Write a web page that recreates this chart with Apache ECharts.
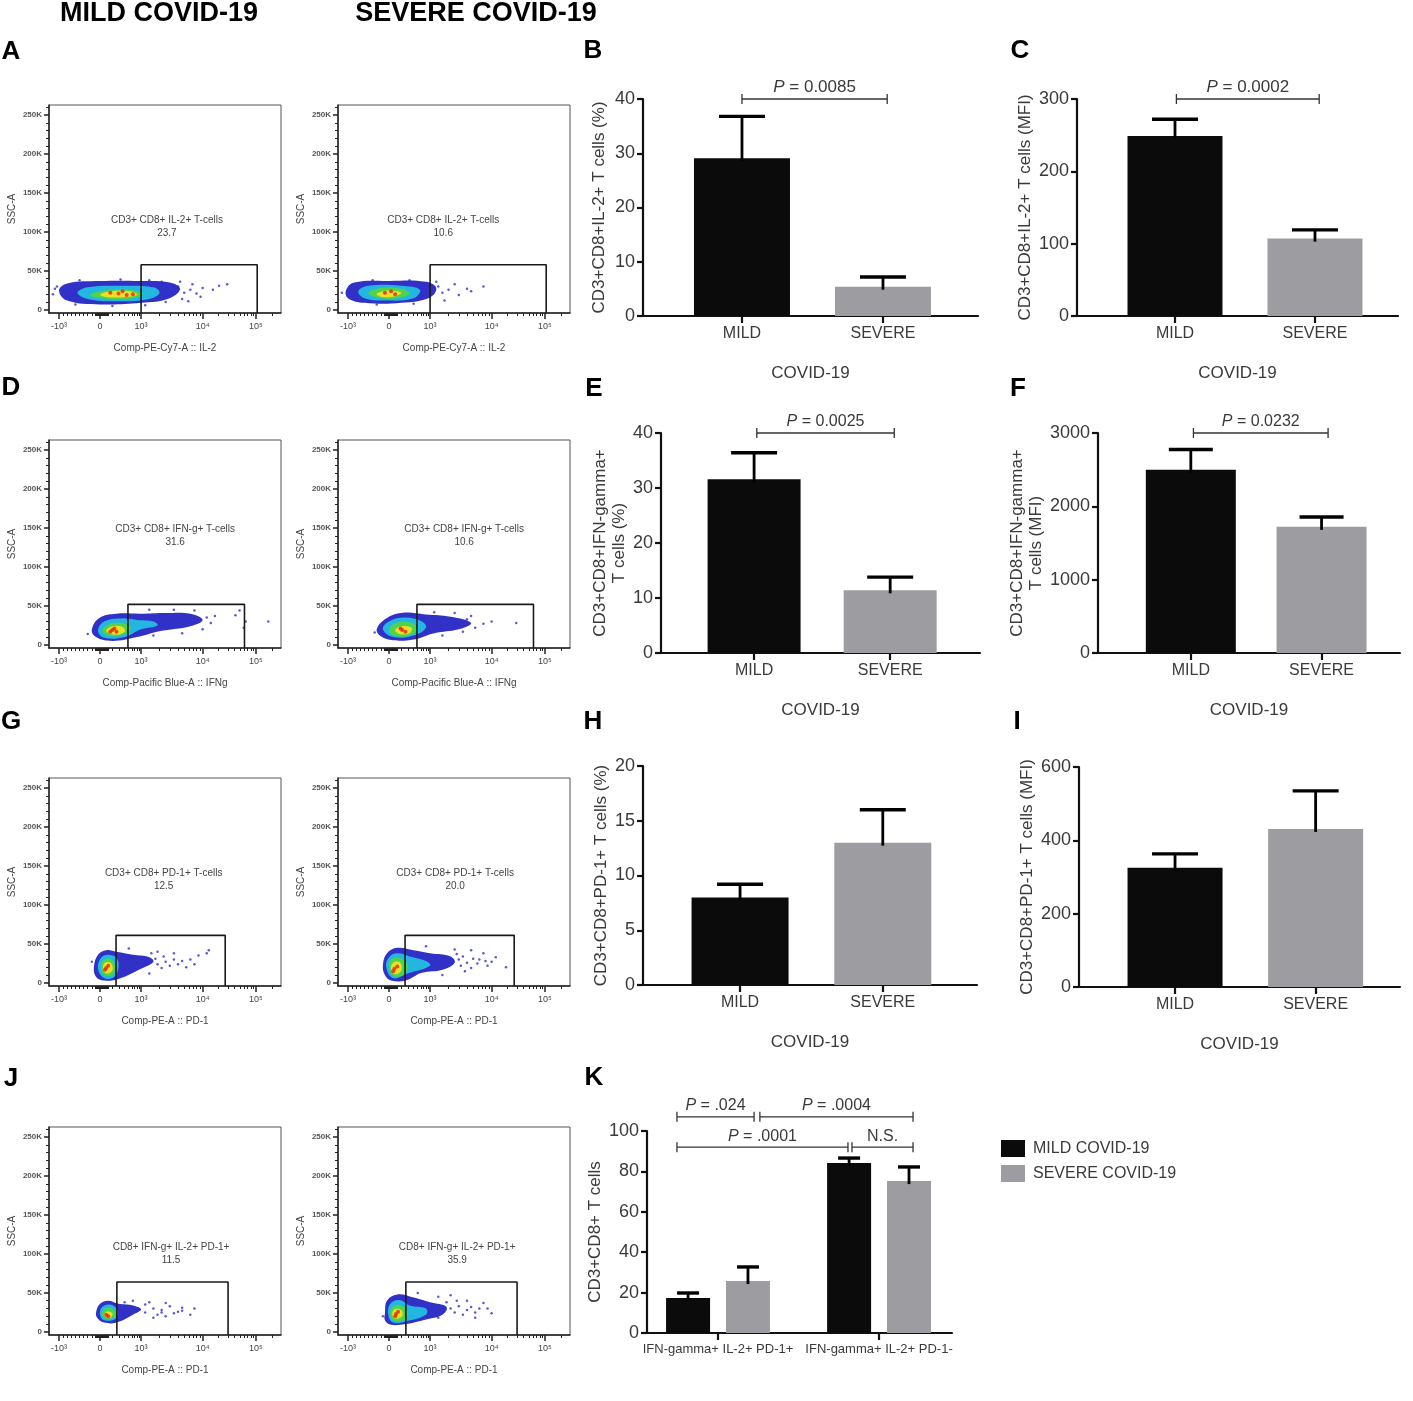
<!DOCTYPE html>
<html>
<head>
<meta charset="utf-8">
<title>CD8 T cells in mild and severe COVID-19</title>
<script src="https://cdn.jsdelivr.net/npm/echarts@6.0.0/dist/echarts.min.js"></script>
<style>
  html, body { margin: 0; padding: 0; background: #fff; }
  #chart { width: 1413px; height: 1401px; }
</style>
</head>
<body>
<div id="chart"></div>
<script>
'use strict';

// ---------- bar panels: mean and SD ----------
var groups = ['MILD', 'SEVERE'];
var il2Pct = [29.1, 5.4],     il2PctSd = [7.7, 1.8];      // B
var il2Mfi = [249, 107],      il2MfiSd = [23, 12];        // C
var ifngPct = [31.6, 11.4],   ifngPctSd = [4.8, 2.4];     // E
var ifngMfi = [2500, 1720],   ifngMfiSd = [275, 135];     // F
var pd1Pct = [8.0, 13.0],     pd1PctSd = [1.2, 3.0];      // H
var pd1Mfi = [325, 431],      pd1MfiSd = [38, 104];       // I
var kCats = ['IFN-gamma+ IL-2+ PD-1+', 'IFN-gamma+ IL-2+ PD-1-'];
var kMild = [17.3, 84.2],     kMildSd = [2.5, 2.4];       // K
var kSevere = [25.7, 75.2],   kSevereSd = [7.0, 7.0];
var pB = '0.0085', pC = '0.0002', pE = '0.0025', pF = '0.0232';
var kTests = ['P = .024', 'P = .0004', 'P = .0001', 'N.S.'];

// ---------- flow plots: x in display units (-10^3=-1, 0, 10^3=1, 10^4=2.5, 10^5=3.8), y in K ----------
var flowMajorT = [-1, 0, 1, 2.5, 3.8];
var flowMajorLbl = ['-10\u00b3', '0', '10\u00b3', '10\u2074', '10\u2075'];
var ssctTicks = [0, 50, 100, 150, 200, 250];

// density contours (blue, cyan, green, yellow) and sparse events
var aMildRings = [
  [[-1.0,25],[-0.8,34],[0,37],[1,37],[1.7,35],[1.95,27],[1.7,15],[1,9],[0,7],[-0.8,12]],
  [[-0.55,22],[-0.3,29],[0.5,31],[1.3,29],[1.45,22],[1.2,14],[0.4,11],[-0.3,14]],
  [[-0.25,19],[0.1,25],[0.7,26],[1.05,21],[0.8,15],[0.2,14]],
  [[0,20],[0.3,24],[0.8,23],[0.9,19],[0.5,16],[0.1,17]]
];
var aMildHot = [[0.25,22],[0.45,21],[0.55,24],[0.8,20],[0.65,19]];
var aMildDots = [[1.9,30],[2.05,22],[2.0,14],[2.2,26],[2.25,33],[2.5,28],[2.45,17],[2.75,26],[2.9,31],[3.1,33],
  [2.35,21],[1.95,36],[2.15,11],[-1.15,20],[-1.1,27],[-1.05,30],[-0.5,38],[0.5,39],[1.2,38],[1.5,36],[-0.6,7],[0.3,5],[1.1,6],[1.6,10]];

var aSevRings = [
  [[-1.05,25],[-0.85,35],[0,37],[0.9,36],[1.15,28],[1.0,16],[0.3,9],[-0.6,9],[-1.0,15]],
  [[-0.75,24],[-0.5,31],[0.3,31],[0.75,26],[0.6,15],[-0.1,12],[-0.6,15]],
  [[-0.5,22],[-0.2,28],[0.3,27],[0.5,21],[0.2,15],[-0.3,16]],
  [[-0.3,21],[0,25],[0.3,22],[0.1,17],[-0.2,17]]
];
var aSevHot = [[-0.1,22],[0.15,20],[0.05,24]];
var aSevDots = [[1.2,30],[1.3,22],[1.45,26],[1.6,33],[1.7,19],[1.9,27],[2.0,24],[1.35,12],[1.15,36],[2.3,30],[-1.15,22],
  [-0.4,38],[0.5,38],[-0.3,7],[0.6,8]];

var dMildRings = [
  [[-0.2,20],[0.0,35],[0.4,40],[1.0,40],[1.6,41],[2.2,40],[2.5,32],[2.2,24],[1.5,18],[0.9,10],[0.3,5],[-0.1,10]],
  [[-0.05,18],[0.1,30],[0.5,34],[0.9,32],[1.3,30],[1.4,25],[1.0,20],[0.6,10],[0.1,9]],
  [[0.05,18],[0.2,26],[0.55,28],[0.75,22],[0.55,13],[0.2,12]],
  [[0.15,18],[0.3,24],[0.55,23],[0.6,17],[0.35,13]]
];
var dMildHot = [[0.3,19],[0.4,17],[0.35,21],[0.25,17]];
var dMildDots = [[2.6,35],[2.7,28],[2.5,20],[2.8,37],[3.3,38],[3.5,22],[3.55,30],[3.4,44],[4.1,30],[2.3,44],[1.8,45],
  [1.2,45],[2.0,15],[-0.3,14],[1.3,12]];

var dSevRings = [
  [[-0.3,20],[-0.1,33],[0.3,41],[0.9,39],[1.5,36],[2.0,28],[1.7,20],[1.1,15],[0.6,7],[0.1,6],[-0.2,11]],
  [[-0.15,20],[0.0,30],[0.4,35],[0.8,30],[0.9,22],[0.6,12],[0.1,10]],
  [[0.0,19],[0.15,28],[0.5,29],[0.7,21],[0.5,12],[0.1,12]],
  [[0.15,19],[0.3,24],[0.55,22],[0.5,15],[0.25,14]]
];
var dSevHot = [[0.32,19],[0.4,17],[0.28,21]];
var dSevDots = [[1.9,33],[2.1,22],[1.8,17],[2.0,37],[1.6,41],[2.3,27],[1.3,12],[2.5,30],[-0.35,16],[1.1,42],[3.1,28]];

var gMildRings = [
  [[-0.15,20],[-0.05,36],[0.15,42],[0.4,40],[0.8,36],[1.2,33],[1.3,27],[1.0,18],[0.45,5],[0.1,3],[-0.1,8]],
  [[-0.05,18],[0.02,32],[0.2,36],[0.4,32],[0.45,20],[0.35,8],[0.1,6]],
  [[0.02,18],[0.08,29],[0.25,31],[0.37,22],[0.3,10],[0.1,10]],
  [[0.07,18],[0.12,26],[0.27,25],[0.3,16],[0.15,12]]
];
var gMildHot = [[0.15,19],[0.2,22],[0.12,17]];
var gMildDots = [[2.2,30],[2.4,35],[2.6,38],[2.1,20],[1.8,38],[1.4,40],[2.3,24],[1.2,12],[0.7,44],[2.65,42],[-0.2,27],
  [1.4,24],[1.5,19],[1.6,27],[1.7,22],[1.8,30],[1.9,24],[1.35,31],[2.0,28],[1.55,34],[1.25,38]];

var gSevRings = [
  [[-0.15,22],[-0.05,38],[0.2,45],[0.6,42],[1.0,38],[1.5,34],[1.6,26],[1.3,17],[0.8,13],[0.4,3],[0.05,3],[-0.1,10]],
  [[-0.07,20],[0.0,33],[0.2,38],[0.5,34],[0.9,28],[1.0,22],[0.45,12],[0.1,6]],
  [[0.0,18],[0.05,30],[0.25,32],[0.45,24],[0.35,10],[0.1,9]],
  [[0.05,17],[0.1,26],[0.27,26],[0.3,16],[0.15,11]]
];
var gSevHot = [[0.13,18],[0.2,21],[0.1,15]];
var gSevDots = [[2.2,30],[2.4,22],[2.6,33],[2.85,20],[2.3,38],[1.6,43],[2.0,42],[2.5,27],[1.3,10],[0.9,47],
  [1.7,30],[1.75,22],[1.8,34],[1.9,26],[2.0,19],[2.05,31],[2.15,25],[1.65,37],[1.85,15],[2.35,28]];

var jMildRings = [
  [[-0.1,24],[0.0,36],[0.2,40],[0.45,36],[0.8,34],[1.0,29],[0.8,22],[0.4,12],[0.1,12],[-0.05,17]],
  [[0.0,22],[0.05,32],[0.25,35],[0.42,28],[0.38,17],[0.1,15]],
  [[0.05,21],[0.1,29],[0.3,30],[0.38,22],[0.2,16]],
  [[0.1,21],[0.15,26],[0.3,24],[0.25,18]]
];
var jMildHot = [[0.15,22],[0.2,20]];
var jMildDots = [[1.2,38],[1.6,37],[2.0,31],[2.3,30],[1.5,25],[2.2,22],[0.9,28],[1.3,18],[0.8,40],[1.9,26],
  [1.1,25],[1.3,30],[1.5,28],[1.7,33],[1.8,24],[2.0,27],[1.4,22],[1.1,35],[1.6,20],[0.6,38]];

var jSevRings = [
  [[-0.1,24],[-0.05,40],[0.2,48],[0.6,44],[1.0,38],[1.4,32],[1.3,22],[0.9,16],[0.4,10],[0.05,9],[-0.1,15]],
  [[-0.02,22],[0.03,36],[0.25,41],[0.5,34],[0.9,30],[0.9,22],[0.45,14],[0.1,12]],
  [[0.03,22],[0.08,32],[0.3,34],[0.45,25],[0.35,15],[0.1,15]],
  [[0.08,22],[0.13,29],[0.3,28],[0.32,20],[0.15,17]]
];
var jSevHot = [[0.17,23],[0.22,26],[0.15,20]];
var jSevDots = [[2.2,30],[2.5,24],[2.3,37],[1.9,40],[1.2,45],[2.1,18],[0.7,50],[1.5,47],[2.4,30],[-0.15,20],
  [1.5,30],[1.6,25],[1.7,33],[1.8,22],[1.9,28],[2.0,32],[1.4,38],[1.2,18],[2.1,25],[1.65,40]];

// gates: [x from, x to, top (K)], gate frequencies [mild, severe]
var gateA = [1.0, 3.83, 58],  pctA = ['23.7', '10.6'];
var gateD = [0.68, 3.52, 52], pctD = ['31.6', '10.6'];
var gateG = [0.39, 3.05, 61], pctG = ['12.5', '20.0'];
var gateJ = [0.41, 3.12, 64], pctJ = ['11.5', '35.9'];

// ---------- layout ----------
var X_MIN = -1.244, X_MAX = 4.41, Y_MIN = -4, Y_MAX = 263;
var FONT = '"Liberation Sans", Arial, sans-serif';
var NARROW = '"Liberation Sans Narrow", "Liberation Sans", Arial, sans-serif';
var TXT = '#3a3a3a';
var BLACK = '#0b0b0b', GREY = '#9d9da1';
var densityColors = ['#3131c8', '#22b6e0', '#4fd34f', '#eae024'];

function nearestIndex(arr, v) {
  var best = 0;
  for (var i = 1; i < arr.length; i++) {
    if (Math.abs(arr[i] - v) < Math.abs(arr[best] - v)) best = i;
  }
  return best;
}

// minor ticks of the biexponential axis
var flowMinorT = [];
var k;
for (k = -9; k <= -1; k++) flowMinorT.push(k / 10);
for (k = -6; k <= 10; k++) flowMinorT.push(k / 50);        // the dark block around 0
for (k = 2; k <= 9; k++) flowMinorT.push(Math.log10(k));
for (k = 2; k <= 9; k++) flowMinorT.push(1 + 1.5 * Math.log10(k));
for (k = 2; k <= 9; k++) flowMinorT.push(2.5 + 1.3 * Math.log10(k));
flowMinorT.push(3.8 + 1.3 * Math.log10(2), 3.8 + 1.3 * Math.log10(3));
var ssctMinor = [];
for (k = 1; k <= 26; k++) if (k % 5) ssctMinor.push(k * 10);

var option = {
  animation: false,
  backgroundColor: '#ffffff',
  textStyle: { fontFamily: FONT },
  grid: [], xAxis: [], yAxis: [], series: [], graphic: [],
  legend: {
    data: ['MILD COVID-19', 'SEVERE COVID-19'],
    orient: 'vertical', left: 996, top: 1135,
    icon: 'rect', itemWidth: 24, itemHeight: 17, itemGap: 8,
    selectedMode: false,
    textStyle: { fontSize: 16, color: TXT, fontFamily: FONT, padding: [0, 0, 0, 3] }
  }
};

function addFlow(cfg) {
  var gi = option.grid.length;
  option.grid.push({ left: cfg.left, top: cfg.top, width: 232, height: 208, show: true, borderColor: '#555', borderWidth: 1 });
  var xi = option.xAxis.length, yi = option.yAxis.length;
  option.xAxis.push({
    type: 'value', gridIndex: gi, position: 'bottom', min: X_MIN, max: X_MAX,
    name: cfg.xName, nameLocation: 'middle', nameGap: 30,
    nameTextStyle: { fontSize: 10, color: '#444', fontFamily: FONT },
    axisLine: { show: true, onZero: false, lineStyle: { color: '#222', width: 1.5 } },
    axisTick: { show: true, inside: false, length: 6, customValues: flowMajorT, lineStyle: { color: '#222', width: 1.5 } },
    axisLabel: {
      show: true, customValues: flowMajorT, margin: 9, fontSize: 9, color: '#444',
      formatter: function (v) { return flowMajorLbl[nearestIndex(flowMajorT, v)]; }
    },
    splitLine: { show: false }
  }, {
    type: 'value', gridIndex: gi, position: 'bottom', min: X_MIN, max: X_MAX,
    axisLine: { show: false, onZero: false },
    axisTick: { show: true, inside: false, length: 3, customValues: flowMinorT, lineStyle: { color: '#222', width: 1 } },
    axisLabel: { show: false }, splitLine: { show: false }
  });
  option.yAxis.push({
    type: 'value', gridIndex: gi, position: 'left', min: Y_MIN, max: Y_MAX,
    name: 'SSC-A', nameLocation: 'middle', nameGap: 32,
    nameTextStyle: { fontSize: 10, color: '#444', fontFamily: FONT },
    axisLine: { show: true, onZero: false, lineStyle: { color: '#222', width: 1.5 } },
    axisTick: { show: true, inside: false, length: 5, customValues: ssctTicks, lineStyle: { color: '#222', width: 1.5 } },
    axisLabel: {
      show: true, customValues: ssctTicks, margin: 7, fontSize: 8, fontWeight: 'bold', color: '#555',
      formatter: function (v) { return Math.round(v) === 0 ? '0' : Math.round(v) + 'K'; }
    },
    splitLine: { show: false }
  }, {
    type: 'value', gridIndex: gi, position: 'left', min: Y_MIN, max: Y_MAX,
    axisLine: { show: false, onZero: false },
    axisTick: { show: true, inside: false, length: 3, customValues: ssctMinor, lineStyle: { color: '#222', width: 1 } },
    axisLabel: { show: false }, splitLine: { show: false }
  });

  option.series.push({
    type: 'custom', xAxisIndex: xi, yAxisIndex: yi, silent: true, z: 2,
    data: cfg.rings.map(function (r, i) { return [r[0][0], r[0][1], i]; }),
    renderItem: function (params, api) {
      var ring = cfg.rings[api.value(2)];
      return {
        type: 'polygon',
        shape: { points: ring.map(function (q) { return api.coord(q); }), smooth: 0.4 },
        style: { fill: densityColors[api.value(2)] }
      };
    }
  }, {
    type: 'scatter', xAxisIndex: xi, yAxisIndex: yi, silent: true, z: 3,
    data: cfg.dots, symbolSize: 2.5, itemStyle: { color: '#2f2fc4' }
  }, {
    type: 'scatter', xAxisIndex: xi, yAxisIndex: yi, silent: true, z: 3,
    data: cfg.hot, symbolSize: 4, itemStyle: { color: '#e3261d' }
  }, {
    type: 'line', xAxisIndex: xi, yAxisIndex: yi, silent: true, z: 4,
    symbol: 'none',
    data: [[cfg.gate[0], Y_MIN], [cfg.gate[0], cfg.gate[2]], [cfg.gate[1], cfg.gate[2]], [cfg.gate[1], Y_MIN]],
    lineStyle: { color: '#1a1a1a', width: 1.6 }
  }, {
    type: 'custom', xAxisIndex: xi, yAxisIndex: yi, silent: true, z: 5,
    data: [cfg.labelAt],
    renderItem: function (params, api) {
      var p = api.coord([api.value(0), api.value(1)]);
      return {
        type: 'text', x: p[0], y: p[1],
        style: {
          text: cfg.label + '\n' + cfg.pct, align: 'center', verticalAlign: 'middle',
          fontSize: 10, lineHeight: 13, fill: '#444', fontFamily: FONT
        }
      };
    }
  });
}

function addBars(cfg) {
  var gi = option.grid.length;
  var font = cfg.font || FONT;
  option.grid.push({ left: cfg.left, top: cfg.top, width: cfg.width, height: cfg.height });
  var xi = option.xAxis.length, yi = option.yAxis.length;
  option.xAxis.push({
    type: 'value', gridIndex: gi, min: cfg.xMin, max: cfg.xMax,
    name: cfg.xName || '', nameLocation: 'middle', nameGap: 49,
    nameTextStyle: { fontSize: 17, color: TXT, fontFamily: font },
    axisLine: { show: true, onZero: false, lineStyle: { color: '#111', width: 2.2 } },
    axisTick: { show: true, inside: false, length: 7, customValues: [1, 2], lineStyle: { color: '#111', width: 2.2 } },
    axisLabel: {
      show: true, customValues: [1, 2], margin: 10, fontSize: cfg.catSize || 16, color: TXT, fontFamily: font,
      formatter: function (v) { return cfg.cats[nearestIndex([1, 2], v)]; }
    },
    splitLine: { show: false }
  });
  option.yAxis.push({
    type: 'value', gridIndex: gi, min: 0, max: cfg.yMax, interval: cfg.step,
    name: cfg.yName, nameLocation: 'middle', nameGap: cfg.yNameGap,
    nameTextStyle: { fontSize: 17, color: TXT, fontFamily: font, lineHeight: 19 },
    axisLine: { show: true, onZero: false, lineStyle: { color: '#111', width: 2.2 } },
    axisTick: { show: true, inside: false, length: 6, lineStyle: { color: '#111', width: 2.2 } },
    axisLabel: { margin: 8, fontSize: 18, color: TXT, fontFamily: font, formatter: function (v) { return String(v); } },
    splitLine: { show: false }
  });

  cfg.sets.forEach(function (set) {
    var xs = set.mean.map(function (m, i) { return i + 1 + (set.shift || 0); });
    option.series.push({
      type: 'bar', name: set.name, xAxisIndex: xi, yAxisIndex: yi, silent: true,
      barWidth: cfg.barWidth, barGap: '-100%',
      itemStyle: { color: set.colors[0] },
      data: set.mean.map(function (m, i) {
        return { value: [xs[i], m], itemStyle: { color: set.colors[i] } };
      })
    }, {
      type: 'custom', xAxisIndex: xi, yAxisIndex: yi, silent: true, z: 3,
      data: set.mean.map(function (m, i) { return [xs[i], m, set.sd[i]]; }),
      renderItem: function (params, api) {
        var x = api.value(0), m = api.value(1), s = api.value(2);
        var a = api.coord([x, m]), b = api.coord([x, m + s]);
        var cap = cfg.cap / 2;
        return {
          type: 'group', children: [
            { type: 'line', shape: { x1: a[0], y1: a[1] + 3, x2: b[0], y2: b[1] }, style: { stroke: '#000', lineWidth: 2.8 } },
            { type: 'line', shape: { x1: b[0] - cap, y1: b[1], x2: b[0] + cap, y2: b[1] }, style: { stroke: '#000', lineWidth: 3.4 } }
          ]
        };
      }
    });
  });

  if (cfg.brackets) {
    // each bracket: [x from, level, x to]
    option.series.push({
      type: 'custom', xAxisIndex: xi, yAxisIndex: yi, silent: true, z: 4,
      data: cfg.brackets.map(function (b, i) { return [b[0], b[1], b[2], i]; }),
      renderItem: function (params, api) {
        var a = api.coord([api.value(0), api.value(1)]);
        var b = api.coord([api.value(2), api.value(1)]);
        var txt = cfg.bracketText[api.value(3)];
        var rich = txt.indexOf('P = ') === 0 ? '{i|P}' + txt.slice(1) : txt;
        var fs = cfg.pSize || 16;
        return {
          type: 'group', children: [
            { type: 'line', shape: { x1: a[0], y1: a[1], x2: b[0], y2: b[1] }, style: { stroke: '#333', lineWidth: 1.3 } },
            { type: 'line', shape: { x1: a[0], y1: a[1] - 5, x2: a[0], y2: a[1] + 5 }, style: { stroke: '#333', lineWidth: 1.3 } },
            { type: 'line', shape: { x1: b[0], y1: b[1] - 5, x2: b[0], y2: b[1] + 5 }, style: { stroke: '#333', lineWidth: 1.3 } },
            {
              type: 'text', x: (a[0] + b[0]) / 2, y: a[1] - 3,
              style: {
                text: rich, align: 'center', verticalAlign: 'bottom', fontSize: fs, fill: TXT, fontFamily: font,
                rich: { i: { fontStyle: 'italic', fontSize: fs, fill: TXT, fontFamily: font } }
              }
            }
          ]
        };
      }
    });
  }
}

// ---------- flow cytometry panels ----------
var flowRows = [
  { top: 105, rings: [aMildRings, aSevRings], dots: [aMildDots, aSevDots], hot: [aMildHot, aSevHot], gate: gateA, pct: pctA,
    label: 'CD3+ CD8+ IL-2+ T-cells', xName: 'Comp-PE-Cy7-A :: IL-2', at: [[1.63, 107], [1.32, 107]] },
  { top: 440, rings: [dMildRings, dSevRings], dots: [dMildDots, dSevDots], hot: [dMildHot, dSevHot], gate: gateD, pct: pctD,
    label: 'CD3+ CD8+ IFN-g+ T-cells', xName: 'Comp-Pacific Blue-A :: IFNg', at: [[1.83, 140], [1.83, 140]] },
  { top: 778, rings: [gMildRings, gSevRings], dots: [gMildDots, gSevDots], hot: [gMildHot, gSevHot], gate: gateG, pct: pctG,
    label: 'CD3+ CD8+ PD-1+ T-cells', xName: 'Comp-PE-A :: PD-1', at: [[1.55, 133], [1.61, 133]] },
  { top: 1127, rings: [jMildRings, jSevRings], dots: [jMildDots, jSevDots], hot: [jMildHot, jSevHot], gate: gateJ, pct: pctJ,
    label: 'CD8+ IFN-g+ IL-2+ PD-1+', xName: 'Comp-PE-A :: PD-1', at: [[1.73, 100], [1.66, 100]] }
];
flowRows.forEach(function (row) {
  [49, 338].forEach(function (left, s) {
    addFlow({
      left: left, top: row.top, rings: row.rings[s], dots: row.dots[s], hot: row.hot[s],
      gate: row.gate, label: row.label, pct: row.pct[s], labelAt: row.at[s], xName: row.xName
    });
  });
});

// ---------- bar panels ----------
addBars({ left: 643, top: 99, width: 335, height: 217, xMin: 0.298, xMax: 2.674, yMax: 40, step: 10,
  cats: groups, xName: 'COVID-19', yName: 'CD3+CD8+IL-2+ T cells (%)', yNameGap: 34, barWidth: 96, cap: 46,
  sets: [{ mean: il2Pct, sd: il2PctSd, colors: [BLACK, GREY] }],
  brackets: [[1.0, 40, 2.03]], bracketText: ['P = ' + pB], pSize: 17 });

addBars({ left: 1077, top: 99, width: 321, height: 217, xMin: 0.3, xMax: 2.593, yMax: 300, step: 100,
  cats: groups, xName: 'COVID-19', yName: 'CD3+CD8+IL-2+ T cells (MFI)', yNameGap: 38, barWidth: 95, cap: 46,
  sets: [{ mean: il2Mfi, sd: il2MfiSd, colors: [BLACK, GREY] }],
  brackets: [[1.01, 300, 2.03]], bracketText: ['P = ' + pC], pSize: 17 });

addBars({ left: 661, top: 433, width: 319, height: 220, xMin: 0.316, xMax: 2.66, yMax: 40, step: 10, font: NARROW,
  cats: groups, xName: 'COVID-19', yName: 'CD3+CD8+IFN-gamma+\nT cells (%)', yNameGap: 30, barWidth: 93, cap: 46,
  sets: [{ mean: ifngPct, sd: ifngPctSd, colors: [BLACK, GREY] }],
  brackets: [[1.02, 40, 2.03]], bracketText: ['P = ' + pE] });

addBars({ left: 1098, top: 433, width: 302, height: 220, xMin: 0.29, xMax: 2.6, yMax: 3000, step: 1000, font: NARROW,
  cats: groups, xName: 'COVID-19', yName: 'CD3+CD8+IFN-gamma+\nT cells (MFI)', yNameGap: 42, barWidth: 90, cap: 44,
  sets: [{ mean: ifngMfi, sd: ifngMfiSd, colors: [BLACK, GREY] }],
  brackets: [[1.02, 3000, 2.05]], bracketText: ['P = ' + pF] });

addBars({ left: 643, top: 766, width: 334, height: 219, xMin: 0.32, xMax: 2.66, yMax: 20, step: 5, font: NARROW,
  cats: groups, xName: 'COVID-19', yName: 'CD3+CD8+PD-1+ T cells (%)', yNameGap: 31, barWidth: 97, cap: 46,
  sets: [{ mean: pd1Pct, sd: pd1PctSd, colors: [BLACK, GREY] }] });

addBars({ left: 1079, top: 767, width: 321, height: 220, xMin: 0.317, xMax: 2.6, yMax: 600, step: 200, font: NARROW,
  cats: groups, xName: 'COVID-19', yName: 'CD3+CD8+PD-1+ T cells (MFI)', yNameGap: 40, barWidth: 95, cap: 46,
  sets: [{ mean: pd1Mfi, sd: pd1MfiSd, colors: [BLACK, GREY] }] });

addBars({ left: 647, top: 1131, width: 305, height: 202, xMin: 0.559, xMax: 2.453, yMax: 100, step: 20,
  cats: kCats, catSize: 13, yName: 'CD3+CD8+ T cells', yNameGap: 39, barWidth: 44, cap: 22,
  sets: [
    { name: 'MILD COVID-19', mean: kMild, sd: kMildSd, colors: [BLACK, BLACK], shift: -0.186 },
    { name: 'SEVERE COVID-19', mean: kSevere, sd: kSevereSd, colors: [GREY, GREY], shift: 0.186 }
  ],
  brackets: [[0.745, 107, 1.224], [1.26, 107, 2.211], [0.745, 92, 1.807], [1.832, 92, 2.211]],
  bracketText: kTests });

// ---------- headers and panel letters ----------
function addText(txt, x, y, size) {
  option.graphic.push({
    type: 'text', x: x, y: y, silent: true,
    style: {
      text: txt, align: 'center', verticalAlign: 'middle', textAlign: 'center', textVerticalAlign: 'middle',
      fontSize: size, fontWeight: 'bold', fontFamily: FONT, fill: '#000'
    }
  });
}
addText('MILD COVID-19', 159, 14, 27);
addText('SEVERE COVID-19', 476, 14, 27);
[['A', 11, 52], ['B', 593, 51], ['C', 1020, 51], ['D', 11, 388], ['E', 594, 389], ['F', 1018, 389],
 ['G', 11, 722], ['H', 593, 722], ['I', 1017, 722], ['J', 11, 1079], ['K', 594, 1078]].forEach(function (l) {
  addText(l[0], l[1], l[2], 26);
});

var chart = echarts.init(document.getElementById('chart'), null, { renderer: 'canvas' });
chart.setOption(option);
window.addEventListener('resize', chart.resize);
</script>
</body>
</html>
